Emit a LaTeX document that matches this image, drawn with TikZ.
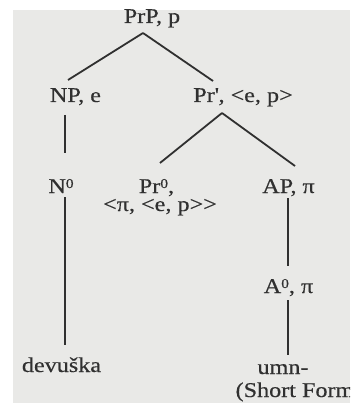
\documentclass[tikz,border=0pt]{standalone}
\usepackage{fontspec}
\setmainfont{Liberation Serif}[FakeStretch=1.15,FakeBold=0.4]
\definecolor{scanbg}{RGB}{233,233,231}
\definecolor{ink}{RGB}{48,48,48}
\newcommand{\supz}{\raisebox{5pt}{\fontsize{13.5}{14}\selectfont 0}}
\begin{document}
\begin{tikzpicture}[x=1pt,y=1pt,
  lbl/.style={anchor=base,inner sep=0pt,text=ink,font=\fontsize{21}{22}\selectfont},
  edge/.style={draw=ink,line width=1.8pt}]
\clip (0,0) rectangle (350,-403);
\fill[white] (0,0) rectangle (350,-403);
\fill[scanbg] (13,-10) rectangle (350,-403);
% labels
\node[lbl] (prp) at (152,-23) {PrP, p};
\node[lbl] (np) at (75.5,-102) {NP, e};
\node[lbl] (prb) at (243,-102) {Pr\textquotesingle, <e, p>};
\node[lbl] (n0) at (61,-193) {N\supz};
\node[lbl] (pr0) at (156.5,-193) {Pr\supz,};
\node[lbl] (pr0t) at (160,-211) {<π, <e, p>{}>};
\node[lbl] (ap) at (288.5,-193) {AP, π};
\node[lbl] (a0) at (288.5,-293) {A\supz, π};
\node[lbl] (dev) at (61.5,-372) {devuška};
\node[lbl] (umn) at (283,-374) {umn-};
\node[lbl] (sf) at (299,-397) {(Short Form)};
% attachment points
\coordinate (prp-d) at (143,-33);
\coordinate (np-u) at (68,-80);
\coordinate (prb-u) at (213,-81);
\coordinate (np-d) at (65,-115);
\coordinate (n0-u) at (65,-153);
\coordinate (prb-d) at (222,-113);
\coordinate (pr0-u) at (160,-163);
\coordinate (ap-u) at (295,-166);
\coordinate (n0-d) at (65,-197);
\coordinate (dev-u) at (65,-345);
\coordinate (ap-d) at (288,-198);
\coordinate (a0-u) at (288,-266);
\coordinate (a0-d) at (288,-300);
\coordinate (umn-u) at (288,-355);
% edges
\draw[edge] (prp-d) -- (np-u);
\draw[edge] (prp-d) -- (prb-u);
\draw[edge] (np-d) -- (n0-u);
\draw[edge] (prb-d) -- (pr0-u);
\draw[edge] (prb-d) -- (ap-u);
\draw[edge] (n0-d) -- (dev-u);
\draw[edge] (ap-d) -- (a0-u);
\draw[edge] (a0-d) -- (umn-u);
\end{tikzpicture}
\end{document}
